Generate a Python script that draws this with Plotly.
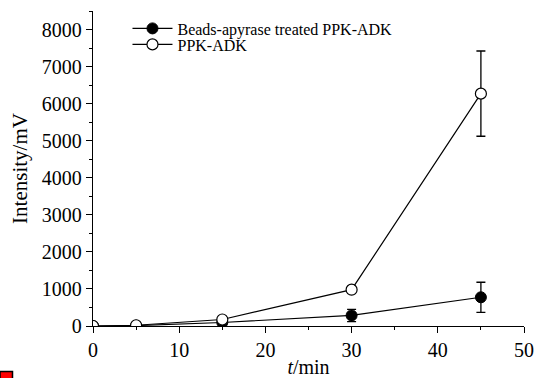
import plotly.graph_objects as go

# Data
time_min = [0, 5, 15, 30, 45]
beads_vals = [0, 10, 95, 285, 775]
beads_err = [0, 0, 30, 165, 405]
ppk_vals = [0, 20, 175, 980, 6270]
ppk_err = [0, 0, 70, 40, 1150]

x_ticks = [0, 10, 20, 30, 40, 50]
y_ticks = [0, 1000, 2000, 3000, 4000, 5000, 6000, 7000, 8000]

FONT = "Liberation Serif, Times New Roman, serif"

fig = go.Figure()
fig.add_trace(go.Scatter(
    x=time_min, y=beads_vals, mode="lines+markers",
    name="Beads-apyrase treated PPK-ADK",
    line=dict(color="black", width=1.2),
    marker=dict(symbol="circle", size=11, color="black", line=dict(color="black", width=1)),
    error_y=dict(type="data", array=beads_err, color="black", thickness=1.3, width=4.5),
    legend="legend",
))
fig.add_trace(go.Scatter(
    x=time_min, y=ppk_vals, mode="lines+markers",
    name="PPK-ADK",
    line=dict(color="black", width=1.2),
    marker=dict(symbol="circle", size=11, color="white", line=dict(color="black", width=1.2)),
    error_y=dict(type="data", array=ppk_err, color="black", thickness=1.3, width=4.5),
    legend="legend2",
))

axis_common = dict(
    showline=True, linecolor="black", linewidth=1.3,
    ticks="outside", ticklen=6, tickwidth=1.3, tickcolor="black",
    showgrid=False, zeroline=False, automargin=False,
    tickfont=dict(family=FONT, size=20, color="black"),
)

fig.update_xaxes(
    range=[0, 50], tickvals=x_ticks, **axis_common,
    minor=dict(ticks="outside", ticklen=3, tickwidth=1.2, tickcolor="black", dtick=5, showgrid=False),
    title=dict(text="<i>t</i>/min", font=dict(family=FONT, size=20, color="black"), standoff=4),
)
fig.update_yaxes(
    range=[0, 8500], tickvals=y_ticks, **axis_common,
    minor=dict(ticks="outside", ticklen=3, tickwidth=1.2, tickcolor="black", dtick=500, showgrid=False),
    title=dict(text="Intensity/mV", font=dict(family=FONT, size=21, color="black"), standoff=8),
)

legend_common = dict(
    font=dict(family=FONT, size=16, color="black"),
    bgcolor="rgba(0,0,0,0)", borderwidth=0,
    xanchor="left", yanchor="middle", itemwidth=40,
)
fig.update_layout(
    width=548, height=378,
    margin=dict(l=93, r=24, t=11, b=52, autoexpand=False),
    paper_bgcolor="white", plot_bgcolor="white",
    showlegend=True,
    legend=dict(x=0.08, y=1 - (28.5 - 11) / 315, **legend_common),
    legend2=dict(x=0.08, y=1 - (44.5 - 11) / 315, **legend_common),
    shapes=[dict(type="rect", xref="paper", yref="paper",
                 x0=-93 / 431, x1=(12.5 - 93) / 431,
                 y0=(326 - 381) / 315, y1=(326 - 371.5) / 315,
                 fillcolor="red", line=dict(color="black", width=1.5))],
)

fig.write_html("out.html")
